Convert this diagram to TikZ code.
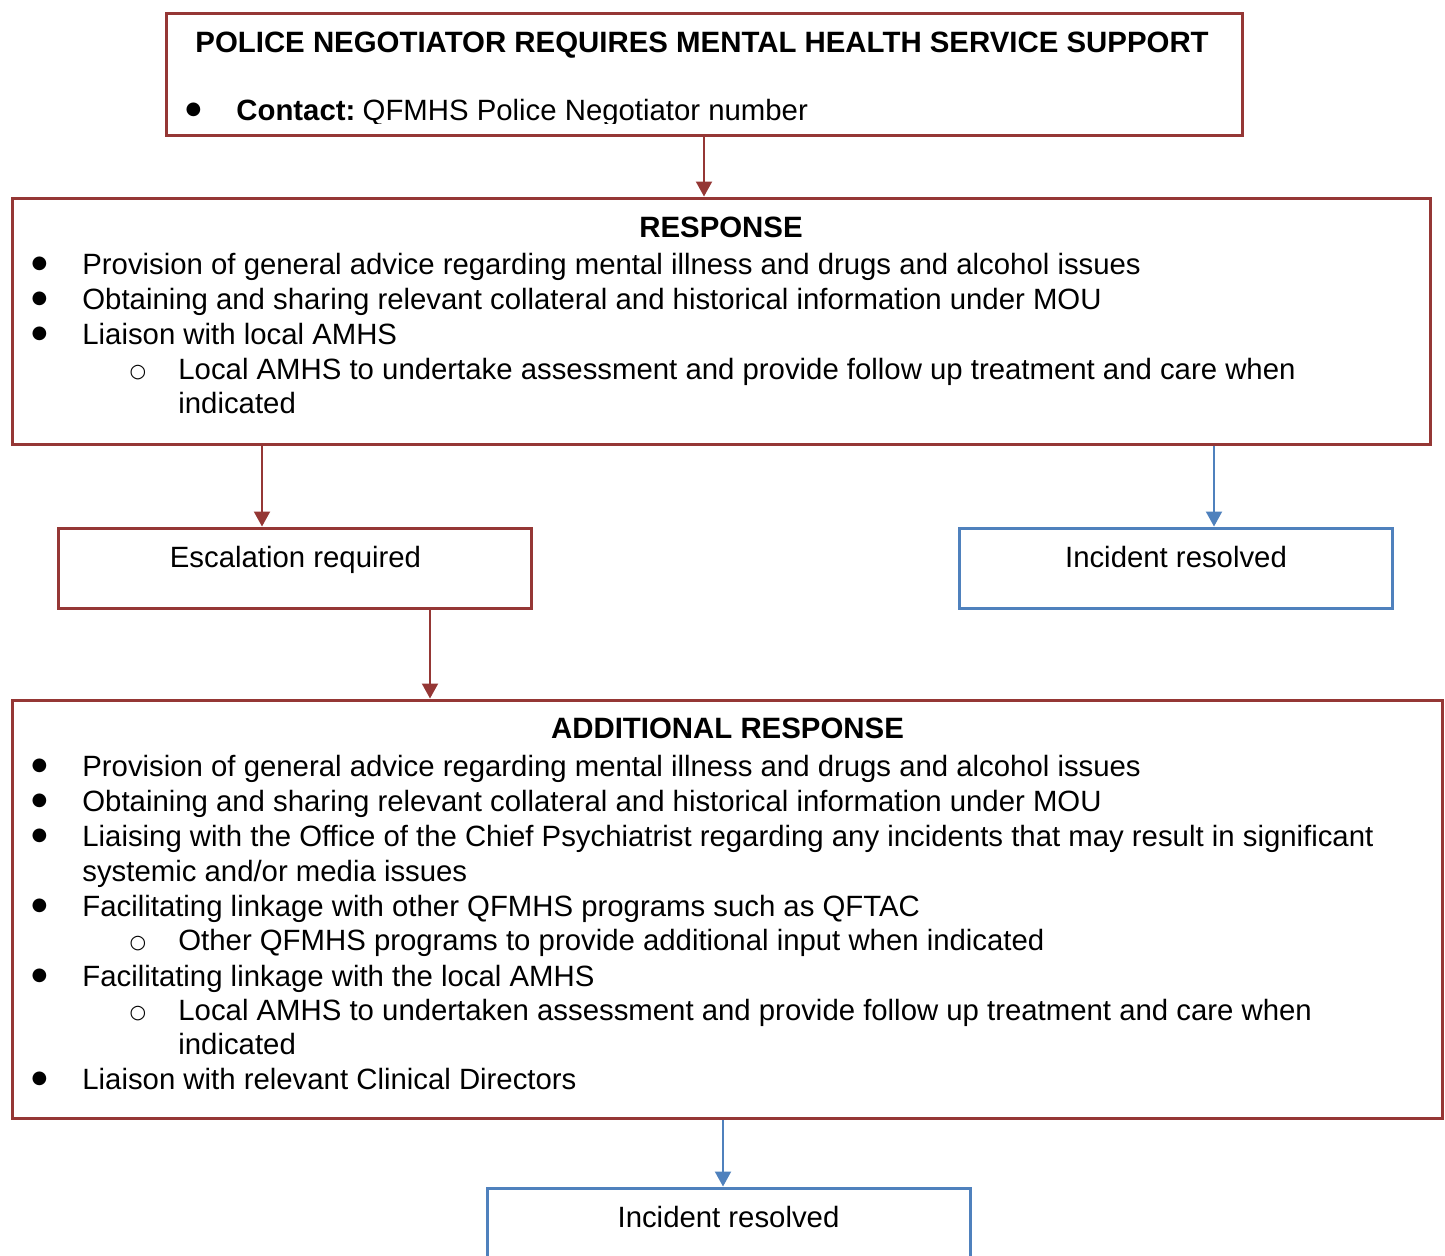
\documentclass[tikz,border=0pt]{standalone}
\usepackage{fontspec}
\setmainfont{Liberation Sans}
\newfontfamily\symfnt{DejaVu Sans}
\usetikzlibrary{arrows.meta}
\definecolor{boxred}{HTML}{953735}
\definecolor{boxblue}{HTML}{4F81BD}
\begin{document}
\begin{tikzpicture}[x=0.5pt,y=-0.5pt,
  box/.style={draw,line width=1.5pt,inner sep=0pt,fill=none},
  redbox/.style={box,draw=boxred},
  bluebox/.style={box,draw=boxblue},
  redarrow/.style={draw=boxred,line width=1pt,-{Triangle[width=8pt,length=7.5pt]},boxred},
  bluearrow/.style={draw=boxblue,line width=1pt,-{Triangle[width=8pt,length=7.5pt]},boxblue},
  txt/.style={anchor=base west,inner sep=0pt,font=\fontsize{14.67pt}{17.5pt}\selectfont},
  ctxt/.style={txt,anchor=base},
  btxt/.style={txt,font=\fontsize{14.7pt}{17.5pt}\selectfont\bfseries},
  cbtxt/.style={btxt,anchor=base},
  bul/.style={anchor=center,inner sep=0pt,font=\fontsize{9pt}{10pt}\symfnt},
  subb/.style={anchor=center,inner sep=0pt,font=\fontsize{9.5pt}{10pt}\symfnt}
]
\useasboundingbox (0,0) rectangle (1445,1255);
\fill[white] (0,0) rectangle (1445,1255);

% boxes
\node[redbox,minimum width=538pt,minimum height=61pt] (top) at (704,74) {};
\node[redbox,minimum width=709pt,minimum height=123pt] (resp) at (721,321) {};
\node[redbox,minimum width=236.5pt,minimum height=40pt] (esc) at (294.5,568) {};
\node[bluebox,minimum width=216.5pt,minimum height=40pt] (inc1) at (1175.5,568) {};
\node[redbox,minimum width=715pt,minimum height=209pt] (add) at (727,909) {};
\node[bluebox,minimum width=241.5pt,minimum height=60pt] (inc2) at (728.5,1248) {};

% top box text
\node[btxt] (t1) at (195,52) {POLICE NEGOTIATOR REQUIRES MENTAL HEALTH SERVICE SUPPORT};
\begin{scope}
\clip (166,13) rectangle (1242,123);
\node[bul] (t2b) at (193.5,110) {●};
\node[txt] (t2) at (236,120) {\textbf{Contact:}\hspace{0.25em}QFMHS Police Negotiator number};
\end{scope}

% response text
\node[cbtxt] (r0) at (721,237) {RESPONSE};
\node[bul] (r1b) at (39.5,264) {●};
\node[txt] (r1) at (82,274) {Provision of general advice regarding mental illness and drugs and alcohol issues};
\node[bul] (r2b) at (39.5,299) {●};
\node[txt] (r2) at (82,309) {Obtaining and sharing relevant collateral and historical information under MOU};
\node[bul] (r3b) at (39.5,334) {●};
\node[txt] (r3) at (82,344) {Liaison with local AMHS};
\node[subb] (r4b) at (138,373) {○};
\node[txt] (r4) at (178,379) {Local AMHS to undertake assessment and provide follow up treatment and care when};
\node[txt] (r5) at (178,413) {indicated};

\node[ctxt] (e0) at (295.5,567) {Escalation required};
\node[ctxt] (i1) at (1176,567) {Incident resolved};

% additional response text
\node[cbtxt] (a0) at (727.5,738) {ADDITIONAL RESPONSE};
\node[bul] (a1b) at (39.5,766) {●};
\node[txt] (a1) at (82,776) {Provision of general advice regarding mental illness and drugs and alcohol issues};
\node[bul] (a2b) at (39.5,801) {●};
\node[txt] (a2) at (82,811) {Obtaining and sharing relevant collateral and historical information under MOU};
\node[bul] (a3b) at (39.5,836) {●};
\node[txt] (a3) at (82,846) {Liaising with the Office of the Chief Psychiatrist regarding any incidents that may result in significant};
\node[txt] (a4) at (82,881) {systemic and/or media issues};
\node[bul] (a5b) at (39.5,906) {●};
\node[txt] (a5) at (82,916) {Facilitating linkage with other QFMHS programs such as QFTAC};
\node[subb] (a6b) at (138,944) {○};
\node[txt] (a6) at (178,950) {Other QFMHS programs to provide additional input when indicated};
\node[bul] (a7b) at (39.5,976) {●};
\node[txt] (a7) at (82,986) {Facilitating linkage with the local AMHS};
\node[subb] (a8b) at (138,1014) {○};
\node[txt] (a8) at (178,1020) {Local AMHS to undertaken assessment and provide follow up treatment and care when};
\node[txt] (a9) at (178,1054) {indicated};
\node[bul] (a10b) at (39.5,1079) {●};
\node[txt] (a10) at (82,1089) {Liaison with relevant Clinical Directors};

\node[ctxt] (i2) at (728.5,1227) {Incident resolved};

% connectors
\coordinate (c1) at (262,0);
\coordinate (c2) at (1214,0);
\coordinate (c3) at (430,0);
\coordinate (c4) at (723,0);
\draw[redarrow] (top.south) -- (top.south |- resp.north);
\draw[redarrow] (resp.south -| c1) -- (esc.north -| c1);
\draw[bluearrow] (resp.south -| c2) -- (inc1.north -| c2);
\draw[redarrow] (esc.south -| c3) -- (add.north -| c3);
\draw[bluearrow] (add.south -| c4) -- (inc2.north -| c4);
\end{tikzpicture}
\end{document}
